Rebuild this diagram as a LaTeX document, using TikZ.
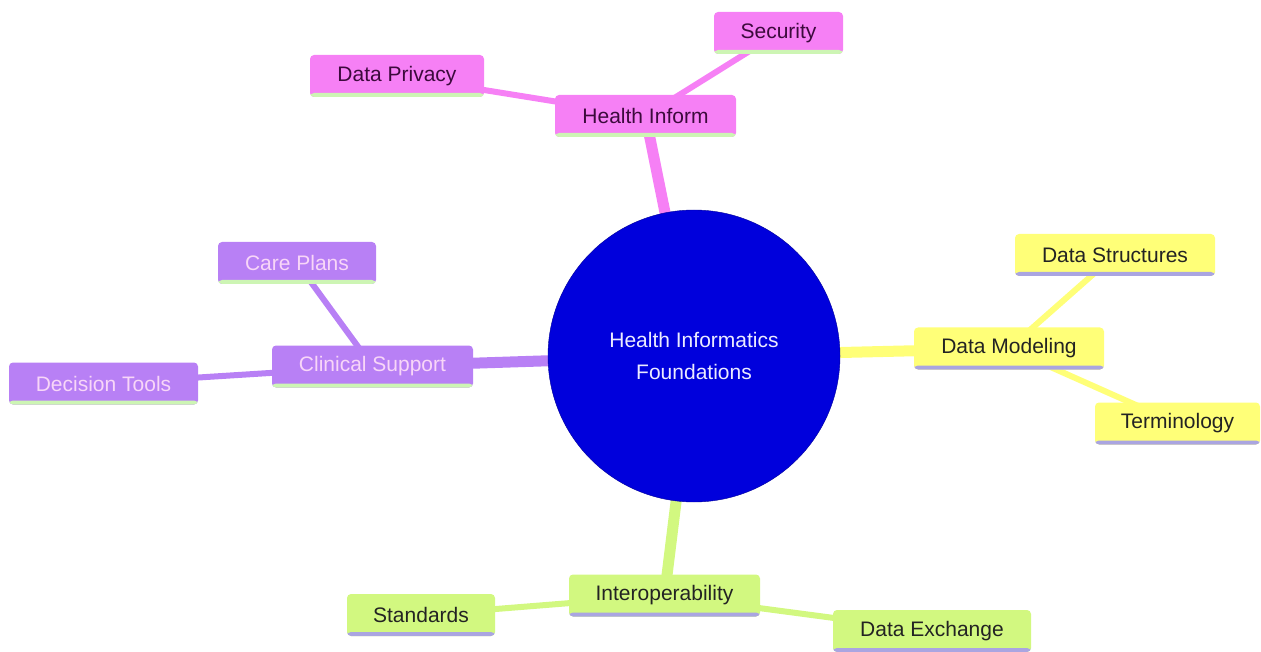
\documentclass[tikz,border=0pt]{standalone}
\usepackage{fontspec}
\setmainfont{Liberation Sans}
\usetikzlibrary{backgrounds}
\definecolor{hipink}{RGB}{246, 128, 245}
\definecolor{cspurple}{RGB}{184, 128, 245}
\definecolor{dmyellow}{RGB}{255, 255, 120}
\definecolor{iogreen}{RGB}{210, 248, 128}
\definecolor{rootblue}{RGB}{0, 0, 220}
\definecolor{lavline}{RGB}{170, 165, 225}
\definecolor{mintline}{RGB}{205, 245, 180}
\definecolor{pinktext}{RGB}{248, 214, 248}
\definecolor{plumtext}{RGB}{60, 10, 60}
\definecolor{darktext}{RGB}{35, 35, 35}

\tikzset{
  leaf/.style={rounded corners=4pt, minimum height=42pt, inner sep=0pt, font=\fontsize{21}{24}\selectfont},
  bottomrule/.style={path picture={\fill[#1] ([yshift=4pt]path picture bounding box.south west) rectangle (path picture bounding box.south east);}},
  hibox/.style={leaf, fill=hipink, text=plumtext, bottomrule=mintline},
  csbox/.style={leaf, fill=cspurple, text=pinktext, bottomrule=mintline},
  dmbox/.style={leaf, fill=dmyellow, text=darktext, bottomrule=lavline},
  iobox/.style={leaf, fill=iogreen, text=darktext, bottomrule=lavline},
  trunk/.style={line width=11pt},
  twig/.style={line width=6pt}
}

\begin{document}
\begin{tikzpicture}[x=1pt, y=-1pt]
  \useasboundingbox (0,0) rectangle (1261,652);

  % centre
  \node[circle, fill=rootblue, draw=rootblue!70!black, minimum size=292pt, inner sep=0pt, text=white!92!blue, align=center, font=\fontsize{21}{32}\selectfont] (root) at (694,356) {Health Informatics\\Foundations};

  % Health Inform
  \node[hibox, minimum width=181pt] (hinform) at (645.5,116) {Health Inform};
  \node[hibox, minimum width=129pt] (security) at (778.5,33) {Security};
  \node[hibox, minimum width=174pt] (privacy) at (397,76) {Data Privacy};

  % Clinical Support
  \node[csbox, minimum width=201pt] (clinical) at (372.5,366.5) {Clinical Support};
  \node[csbox, minimum width=158pt] (careplans) at (297,263) {Care Plans};
  \node[csbox, minimum width=189pt] (dectools) at (103.5,383.5) {Decision Tools};

  % Data Modeling
  \node[dmbox, minimum width=190pt] (modeling) at (1009,348.5) {Data Modeling};
  \node[dmbox, minimum width=200pt] (structures) at (1115,255) {Data Structures};
  \node[dmbox, minimum width=165pt] (terminology) at (1177.5,423.5) {Terminology};

  % Interoperability
  \node[iobox, minimum width=191pt] (interop) at (664.5,595.5) {Interoperability};
  \node[iobox, minimum width=148pt] (standards) at (421,615) {Standards};
  \node[iobox, minimum width=198pt] (exchange) at (932,631) {Data Exchange};

  % branches
  \begin{scope}[on background layer]
    \draw[trunk, hipink] (root.center) -- (hinform.center);
    \draw[twig, hipink] (hinform.center) -- (security.center);
    \draw[twig, hipink] (hinform.center) -- (privacy.center);
    \draw[trunk, cspurple] (root.center) -- (clinical.center);
    \draw[twig, cspurple] (clinical.center) -- (careplans.center);
    \draw[twig, cspurple] (clinical.center) -- (dectools.center);
    \draw[trunk, dmyellow] (root.center) -- (modeling.center);
    \draw[twig, dmyellow] (modeling.center) -- (structures.center);
    \draw[twig, dmyellow] (modeling.center) -- (terminology.center);
    \draw[trunk, iogreen] (root.center) -- (interop.center);
    \draw[twig, iogreen] (interop.center) -- (standards.center);
    \draw[twig, iogreen] (interop.center) -- (exchange.center);
  \end{scope}
\end{tikzpicture}
\end{document}
